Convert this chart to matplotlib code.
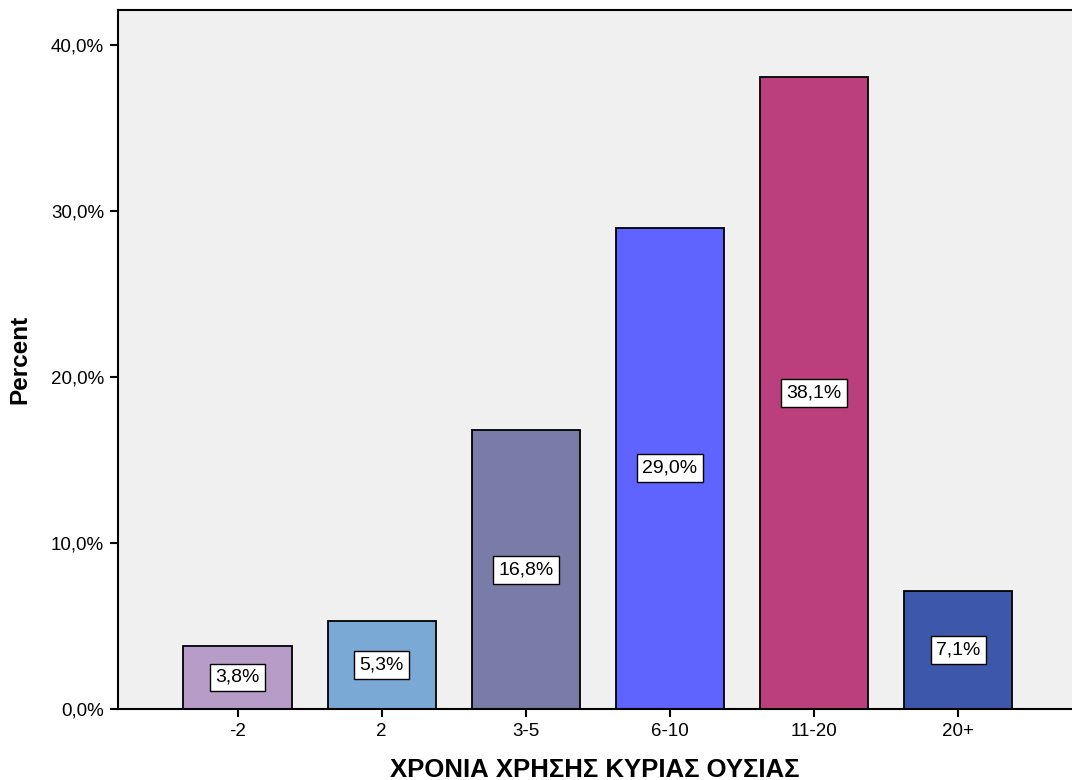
import matplotlib.pyplot as plt
from matplotlib.ticker import FuncFormatter

plt.rcParams['font.family'] = ['Liberation Sans', 'DejaVu Sans']

categories = ['-2', '2', '3-5', '6-10', '11-20', '20+']
percent = [3.8, 5.3, 16.8, 29.0, 38.1, 7.1]
colors = ['#B89CC8', '#7BA9D6', '#7A7CA8', '#5F63FF', '#BB3F7C', '#3D58AB']

fig = plt.figure(figsize=(10.72, 7.8), dpi=100)
ax = fig.add_axes([0.110, 0.091, 0.890, 0.896])
ax.set_facecolor('#F0F0F0')

x = range(len(categories))
ax.bar(x, percent, width=0.75, color=colors, edgecolor='black', linewidth=1.3, zorder=2)

for xi, v in zip(x, percent):
    ax.text(xi, v / 2, f'{v:.1f}%'.replace('.', ','), ha='center', va='center',
            fontsize=14, zorder=3,
            bbox=dict(boxstyle='square,pad=0.28', facecolor='white',
                      edgecolor='black', linewidth=1.0))

ax.set_xlim(-0.83, 5.79)
ax.set_ylim(0, 42.1)
ax.set_yticks([0, 10, 20, 30, 40])
ax.yaxis.set_major_formatter(FuncFormatter(lambda v, p: f'{v:.1f}%'.replace('.', ',')))
ax.set_xticks(list(x))
ax.set_xticklabels(categories)
ax.tick_params(axis='both', direction='out', length=6, width=1.5, labelsize=13.5, pad=4)

for side in ['left', 'bottom', 'top']:
    ax.spines[side].set_linewidth(1.5)
ax.spines['right'].set_visible(False)

ax.set_ylabel('Percent', fontsize=17.5, fontweight='bold', labelpad=14)
ax.set_xlabel('ΧΡΟΝΙΑ ΧΡΗΣΗΣ ΚΥΡΙΑΣ ΟΥΣΙΑΣ', fontsize=18.5, fontweight='bold', labelpad=13)

fig.savefig('out.png', dpi=100)
